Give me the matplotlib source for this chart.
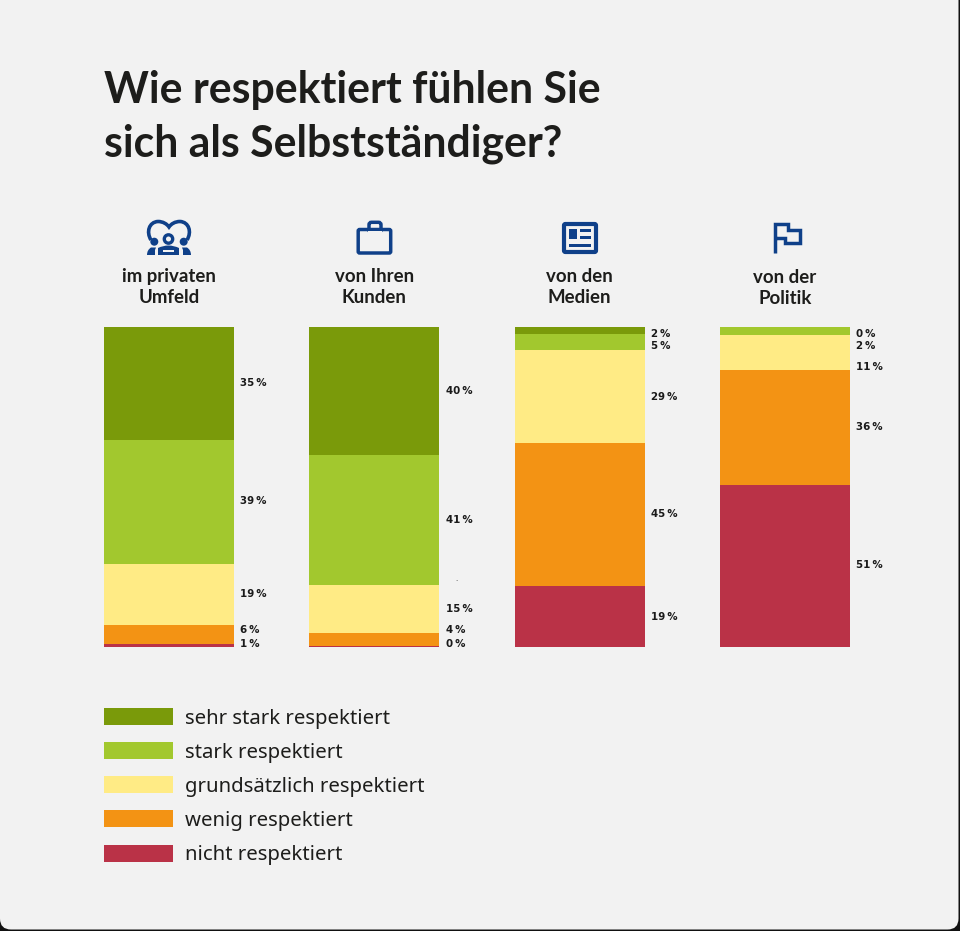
import matplotlib
matplotlib.use("Agg")
import matplotlib.pyplot as plt
import numpy as np
from matplotlib.patches import FancyBboxPatch, Rectangle, Circle, Patch, PathPatch
from matplotlib.path import Path

W, H = 960, 931
FONT = "Noto Sans"
HEAD = "Lato"
BG = "#f2f2f2"
NAVY = "#0f4089"

title_lines = ["Wie respektiert fühlen Sie", "sich als Selbstständiger?"]
categories = ["im privaten\nUmfeld", "von Ihren\nKunden", "von den\nMedien", "von der\nPolitik"]
series_names = ["sehr stark respektiert", "stark respektiert", "grundsätzlich respektiert",
                "wenig respektiert", "nicht respektiert"]
colors = ["#7a9a0a", "#a2c82e", "#ffeb85", "#f39314", "#ba3247"]

sehr_stark = [35.2, 40.0, 2.0, 0.0]
stark = [38.8, 40.7, 5.0, 2.4]
grundsaetzlich = [19.0, 15.0, 29.0, 11.0]
wenig = [6.0, 3.9, 45.0, 36.0]
nicht = [1.0, 0.4, 19.0, 50.6]
values = [sehr_stark, stark, grundsaetzlich, wenig, nicht]

# label heights (px from figure top), nudged apart as in the reference
label_y_px = [[383.5, 501.5, 594, 630, 644],
              [391, 520, 609, 630, 644],
              [334, 346, 396.5, 514, 616.5],
              [334, 346, 366.5, 427.5, 565.5]]

fig = plt.figure(figsize=(W / 100, H / 100), dpi=100, facecolor="#111111")

# page panel and all annotation drawing, in pixel coordinates
pg = fig.add_axes([0, 0, 1, 1], zorder=0)
pg.set_xlim(0, W)
pg.set_ylim(H, 0)
pg.axis("off")
pg.add_patch(FancyBboxPatch((0, -14), W - 1.5, H + 12.5,
                            boxstyle="round,pad=0,rounding_size=11", fc=BG, ec="none"))

# bars
x0, pitch, bw = 104, 205.33, 130
top, bottom = 327.5, 647
ax = fig.add_axes([0, 1 - bottom / H, 1, (bottom - top) / H], zorder=1)
ax.patch.set_alpha(0)
ax.set_xlim((0 - x0) / pitch - 0.0, (W - x0) / pitch)
ax.set_ylim(100, 0)
ax.axis("off")
xs = np.arange(len(categories))
wfrac = bw / pitch
cum = np.zeros(len(categories))
for vals, col, name in zip(values, colors, series_names):
    ax.bar(xs, vals, bottom=cum, width=wfrac, align="edge", color=col, label=name, linewidth=0)
    cum += np.array(vals)

# value labels
for i in range(len(categories)):
    lx = x0 + i * pitch + bw + 6.5
    for k in range(len(series_names)):
        pg.text(lx, label_y_px[i][k], f"{round(values[k][i])}\u2009%", fontsize=7.4, fontweight="bold",
                family="DejaVu Sans", color="#1a1a1a", va="center", ha="left", zorder=3)
pg.text(456.5, 579, ".", fontsize=5, color="#333333", ha="center", va="center", family="DejaVu Sans")

# title
for line, y in zip(title_lines, (90.5, 144)):
    pg.text(104, y, line, fontsize=30.8, fontweight="bold", family=HEAD, color="#1d1d1b",
            va="center", ha="left")

# category headings
heading_y = [287, 287, 287, 288]
for i, (c, y) in enumerate(zip(categories, heading_y)):
    pg.text(x0 + i * pitch + bw / 2, y, c, fontsize=13.4, fontweight="bold", family=HEAD, color="#1d1d1b",
            ha="center", va="center", linespacing=1.27)

# icons
LW = 2.5
def stroke(pts, closed=False, lw=LW):
    codes = [Path.MOVETO] + [Path.LINETO] * (len(pts) - 1)
    if closed:
        pts = pts + [pts[0]]
        codes = codes + [Path.CLOSEPOLY]
    pg.add_patch(PathPatch(Path(pts, codes), fc="none", ec=NAVY, lw=lw, joinstyle="miter", capstyle="butt"))

# people and heart
heart = Path([(151, 240), (146, 232), (149, 222), (158, 221.5), (163, 221.5), (167, 224), (169, 227),
              (171, 224), (175, 221.5), (180, 221.5), (189, 222), (192, 232), (187, 240)],
             [Path.MOVETO] + [Path.CURVE4] * 12)
pg.add_patch(PathPatch(heart, fc="none", ec=NAVY, lw=2.6))
pg.add_patch(Circle((168.5, 239), 4.2, fc="none", ec=NAVY, lw=2.4))
for cx in (154.3, 183.7):
    pg.add_patch(Circle((cx, 241.7), 4, fc=NAVY, ec="none"))
body = Path([(158, 255), (158, 248), (163, 245.5), (168.5, 245.5), (174, 245.5), (179, 248), (179, 255), (158, 255)],
            [Path.MOVETO, Path.LINETO, Path.CURVE3, Path.CURVE3, Path.CURVE3, Path.CURVE3, Path.LINETO, Path.CLOSEPOLY])
pg.add_patch(PathPatch(body, fc=NAVY, ec="none"))
pg.add_patch(Rectangle((163, 250), 11, 2.2, fc=BG, ec="none"))
pg.add_patch(PathPatch(Path([(147, 255), (147, 250), (151, 247.5), (156, 247.5), (155, 250), (155, 255), (147, 255)],
                            [Path.MOVETO, Path.CURVE3, Path.CURVE3, Path.LINETO, Path.LINETO, Path.LINETO, Path.CLOSEPOLY]),
                       fc=NAVY, ec="none"))
pg.add_patch(PathPatch(Path([(191, 255), (191, 250), (187, 247.5), (182, 247.5), (183, 250), (183, 255), (191, 255)],
                            [Path.MOVETO, Path.CURVE3, Path.CURVE3, Path.LINETO, Path.LINETO, Path.LINETO, Path.CLOSEPOLY]),
                       fc=NAVY, ec="none"))

# briefcase
pg.add_patch(FancyBboxPatch((358.2, 229.5), 32.5, 23.5, boxstyle="round,pad=0,rounding_size=1.5",
                            fc="none", ec=NAVY, lw=LW))
pg.add_patch(FancyBboxPatch((369, 222.3), 12, 10, boxstyle="round,pad=0,rounding_size=2.5",
                            fc="none", ec=NAVY, lw=LW, zorder=1))
pg.add_patch(Rectangle((368, 231), 14, 4, fc=BG, ec="none", zorder=1.1))

# newspaper
pg.add_patch(FancyBboxPatch((564, 224), 32, 28, boxstyle="round,pad=0,rounding_size=1.5",
                            fc="none", ec=NAVY, lw=3))
for rx, ry, rw, rh in [(569, 229, 8, 10), (580, 229, 11, 3), (580, 236, 11, 3), (569, 243.5, 22, 3.5)]:
    pg.add_patch(Rectangle((rx, ry), rw, rh, fc=NAVY, ec="none"))

# flag
stroke([(775, 253), (775, 224), (788, 224), (788, 229.5), (800, 229.5), (800, 242.5), (784.5, 242.5),
        (784.5, 237.5), (775, 237.5)], lw=LW)

# legend
fs = 14.65
px = fs * 100 / 72
handles = [Patch(facecolor=c, edgecolor="none", label=n) for c, n in zip(colors, series_names)]
leg = fig.legend(handles=handles, loc="upper left", bbox_to_anchor=(104 / W, 1 - 708 / H), frameon=False,
                 borderpad=0, borderaxespad=0, handlelength=69 / px, handleheight=18.5 / px,
                 handletextpad=12 / px, labelspacing=0.67,
                 prop={"family": FONT, "size": fs})
for t in leg.get_texts():
    t.set_color("#1d1d1b")

fig.savefig("out.png", dpi=100, facecolor=fig.get_facecolor())
